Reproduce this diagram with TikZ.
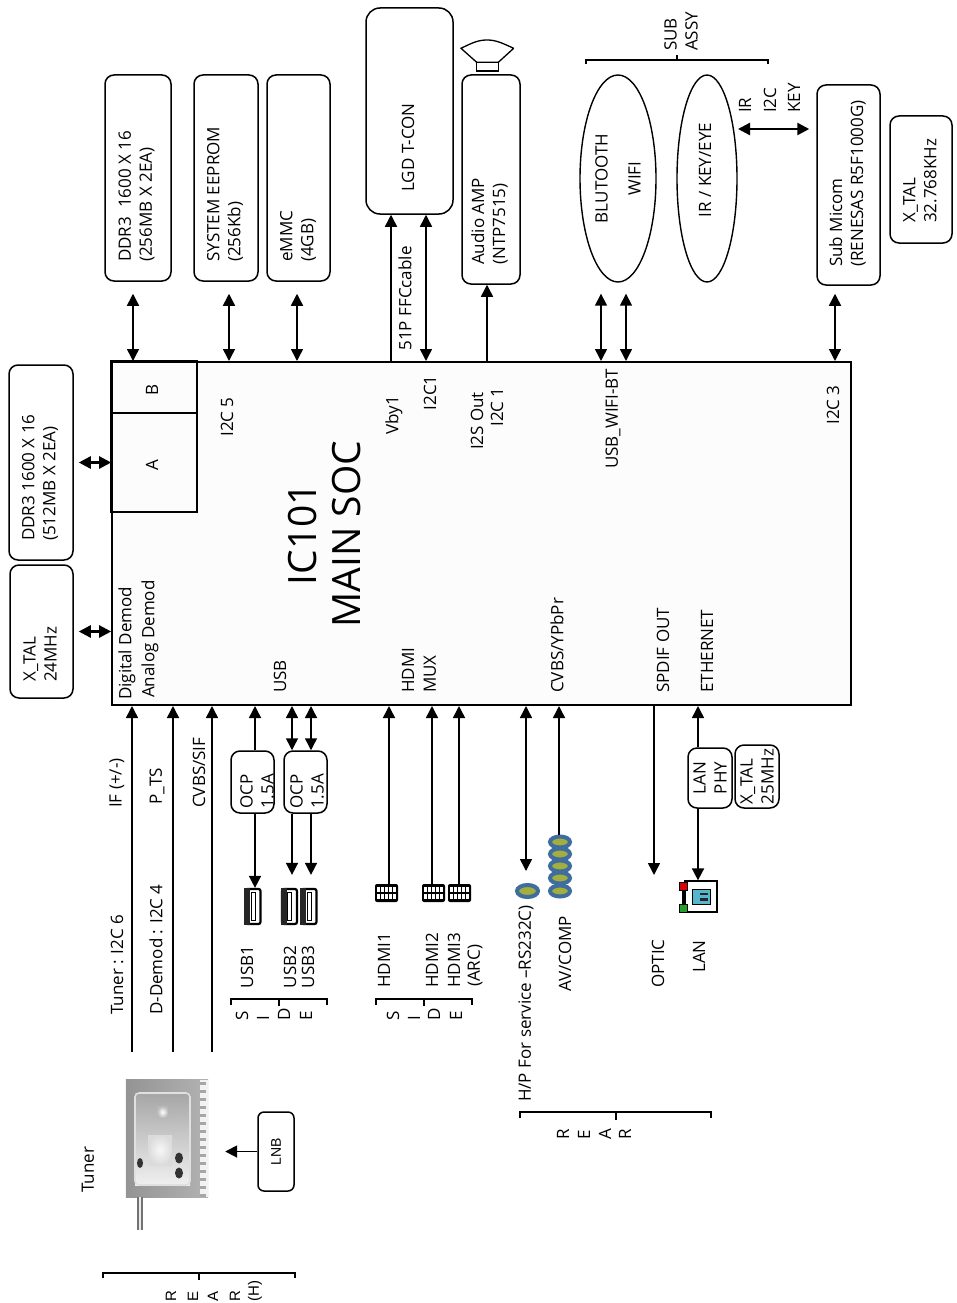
\documentclass[tikz,border=0pt]{standalone}
\usepackage{fontspec}
\setmainfont{Open Sans}
\newfontfamily\arialfont{Liberation Sans}
\usetikzlibrary{arrows.meta,shapes.geometric}
\tikzset{
  lbl/.style={rotate=90,inner sep=0pt,align=left},
  rbox/.style={draw,rotate=90,rounded corners=9pt,line width=1.5pt,inner sep=0pt,align=left},
  oval/.style={draw,ellipse,rotate=90,line width=1.4pt,inner sep=0pt,align=center},
  brk/.style={line width=1.3pt},
  arr/.style={line width=1.5pt,-{Triangle[length=12pt,width=12pt]}},
  dbl/.style={line width=1.5pt,{Triangle[length=12pt,width=12pt]}-{Triangle[length=12pt,width=12pt]}},
  dblthick/.style={line width=2.4pt,{Triangle[length=12pt,width=12pt]}-{Triangle[length=12pt,width=12pt]}},
  plug/.style={draw=jackblue,fill=jackolive,line width=4pt},
}
\definecolor{jackblue}{HTML}{3F6D9E}
\definecolor{jackolive}{HTML}{A3AE3E}
\definecolor{lancyan}{HTML}{56B6CE}
\begin{document}
\begin{tikzpicture}[x=1pt,y=-1pt,font=\fontsize{17}{21}\selectfont]
\useasboundingbox (0,0) rectangle (956,1303);
% main chip
\node (soc) [draw,fill=black!1,line width=1.6pt,inner sep=0pt,minimum width=739,minimum height=343] at (481.5,533.5) {};
\node (memA) [draw,line width=1.4pt,inner sep=0pt,minimum width=85,minimum height=99] at (154.5,462.5) {};
\node (memB) [draw,line width=1.4pt,inner sep=0pt,minimum width=85,minimum height=51] at (154.5,387.5) {};
\draw[line width=2.6pt] (memA.south west)--(memB.north west)--(memB.north east);
\node (lblA) [lbl] at (152,465) {A};
\node (lblB) [lbl] at (152,390) {B};
\node (ic) [lbl,align=center,font=\fontsize{39}{44}\selectfont] at (325,534) {IC101\\MAIN SOC};
%
% labels inside the chip
\node (digdem) [lbl,anchor=west] at (127,700) {Digital Demod};
\node (anadem) [lbl,anchor=west] at (150,698) {Analog Demod};
\node (usbin) [lbl,anchor=west] at (280,693) {USB};
\node (i2c5) [lbl] at (227,417) {I2C 5};
\node (hdmi) [lbl,anchor=west] at (408,693) {HDMI};
\node (mux) [lbl,anchor=west] at (430,693) {MUX};
\node (cvbs) [lbl,anchor=west] at (557,693) {CVBS/YPbPr};
\node (spdif) [lbl,anchor=west] at (663,693) {SPDIF OUT};
\node (eth) [lbl,anchor=west] at (707,693) {ETHERNET};
\node (vby) [lbl] at (394,415) {Vby1};
\node (i2c1a) [lbl] at (430,393) {I2C1};
\node (i2s) [lbl] at (477,421) {I2S Out};
\node (i2c1b) [lbl] at (497,407) {I2C 1};
\node (usbwifi) [lbl] at (613,419) {USB\_WIFI-BT};
\node (i2c3) [lbl] at (833,405) {I2C 3};
%
% boxes above and left of the chip
\node (ddrA) [rbox,minimum width=195,minimum height=64] at (41,462.5) {};
\node (ddrAl) [lbl,anchor=west] at (40,541) {DDR3 1600 X 16\\(512MB X 2EA)};
\node (xtalA) [rbox,minimum width=133,minimum height=63] at (41.5,631.5) {};
\node (xtalAl) [lbl,anchor=west] at (40,682) {X\_TAL\\24MHz};
\node (ddrB) [rbox,minimum width=206,minimum height=66] at (138,178) {};
\node (ddrBl) [lbl,anchor=west] at (136.5,262) {DDR3\ \ 1600 X 16\\(256MB X 2EA)};
\node (eeprom) [rbox,minimum width=206,minimum height=64] at (226,178) {};
\node (eeproml) [lbl,anchor=west] at (225,262) {SYSTEM EEPROM\\(256Kb)};
\node (emmc) [rbox,minimum width=206,minimum height=63] at (298.5,178) {};
\node (emmcl) [lbl,anchor=west] at (298,262) {eMMC\\(4GB)};
\node (tcon) [rbox,rounded corners=14pt,minimum width=206,minimum height=87] at (409.5,111) {};
\node (tconl) [lbl] at (408,147.5) {LGD T-CON};
\node (amp) [rbox,minimum width=209,minimum height=58] at (491,179.5) {};
\node (ampl) [lbl,anchor=west] at (489.5,265) {Audio AMP\\(NTP7515)};
\node (bt) [oval,minimum width=207,minimum height=76] at (618,178.5) {BLUTOOTH\\[12pt]WIFI};
\node (ir) [oval,minimum width=207,minimum height=60] at (707,178.5) {};
\node (irl) [lbl] at (705,170) {IR / KEY/EYE};
\node (micom) [rbox,minimum width=200,minimum height=63] at (848.5,185) {};
\node (micoml) [lbl,anchor=west] at (847.5,267) {Sub Micom\\(RENESAS R5F1000G)};
\node (xtalC) [rbox,minimum width=127,minimum height=62] at (921,179.5) {};
\node (xtalCl) [lbl,anchor=west] at (920,223) {X\_TAL\\32.768KHz};
%
% speaker
\draw[line width=1.3pt] (513.7,48.3)--(498.3,62.3)--(476.7,62.3)--(461,48.3) .. controls (472,43) and (478,40) .. (487,40) .. controls (496,40) and (502,43) .. (513.7,48.3);
\draw[line width=1.3pt] (476.7,62.3) rectangle (498.3,71);
%
% sub assy bracket
\coordinate (subL) at (586,60);
\coordinate (subR) at (768,60);
\coordinate (subM) at (677,60);
\draw[brk] ([yshift=-4pt]subL)--(subL)--(subR)--([yshift=-4pt]subR);
\draw[brk] (subM)--++(0,-5);
\node (subassy) [lbl,anchor=west] at (681,51) {SUB\\ASSY};
\node (irk) [lbl,anchor=west] at (745,113) {IR};
\node (i2cl) [lbl,anchor=west] at (770,113) {I2C};
\node (keyl) [lbl,anchor=west] at (794,113) {KEY};
\node (ffc) [lbl] at (405,298.5) {51P FFCcable};
%
% points on the chip's edges
\foreach \nm/\xx in {A/133,B/229,C/297,D/391,E/426,F/487,G/601,H/626,I/835}{
  \coordinate (top\nm) at (\xx,361);
}
\foreach \nm/\xx in {A/132,B/173,C/212,D/255,E/292,F/311,G/389,H/432,I/459,J/526,K/559,L/654,M/698}{
  \coordinate (bot\nm) at (\xx,706);
}
\coordinate (irarrow) at (738,129);
\draw[dblthick,shorten <=5pt] (ddrA.south)--(ddrA.south -| soc.west);
\draw[dblthick,shorten <=5pt] (xtalA.south)--(xtalA.south -| soc.west);
\draw[dbl,shorten <=12pt] (topA |- ddrB.west)--(topA);
\draw[dbl,shorten <=12pt] (topB |- eeprom.west)--(topB);
\draw[dbl,shorten <=12pt] (topC |- emmc.west)--(topC);
\draw[arr] (topD)--(topD |- tcon.west);
\draw[dbl] (topE |- tcon.west)--(topE);
\draw[arr] (topF)--(topF |- amp.west);
\draw[dbl,shorten <=11pt] (topG |- bt.west)--(topG);
\draw[dbl,shorten <=11pt] (topH |- bt.west)--(topH);
\draw[dbl,shorten <=8pt] (topI |- micom.west)--(topI);
\draw[dblthick,shorten >=7pt] (irarrow)--(micom.north |- irarrow);
%
% tuner
\node (tuner) [inner sep=0pt,minimum width=82,minimum height=117] at (167,1138.5) {};
\shade[left color=black!42,right color=black!30] (tuner.north west) rectangle (tuner.south east);
\shade[top color=black!35,bottom color=black!6] (135,1093) rectangle (190,1185);
\draw[black!12,line width=1.6pt,rounded corners=4pt] (135,1093) rectangle (190,1185);
\shade[inner color=white,outer color=black!28] (157,1106) rectangle (168,1118);
\shade[inner color=black!3,outer color=black!14] (148,1135) rectangle (172,1165);
\fill[black!5] (200,1080) rectangle (208,1197);
\foreach \yy in {1082,1090,...,1194}{\fill[black!35] (200,\yy) rectangle (206,\yy+3);}
\fill[black!55] (137,1197) rectangle (143,1230);
\fill[black!8] (139,1197) rectangle (141,1230);
\foreach \xx/\yy/\rx/\ry in {140/1163/3/5,179/1158/4/5.5,179/1173/4/5.5}{
  \fill[black!80] (\xx,\yy) ellipse ({\rx} and {\ry});
}
\node (tunerl) [lbl] at (88,1170) {Tuner};
\node (lnb) [rbox,rounded corners=6pt,minimum width=79,minimum height=36,font=\arialfont\fontsize{14}{16}\selectfont] at (276,1151.5) {LNB};
\draw[arr,line width=1.8pt,shorten >=17pt] (lnb.north)--(tuner.east |- lnb.north);
\draw[arr,shorten <=28pt] (botA |- tuner.north)--(botA);
\draw[arr,shorten <=28pt] (botB |- tuner.north)--(botB);
\draw[arr,shorten <=28pt] (botC |- tuner.north)--(botC);
\node (ifl) [lbl,anchor=west] at (117,808) {IF (+/-)};
\node (pts) [lbl,anchor=west] at (157,805) {P\_TS};
\node (cvbsif) [lbl,anchor=west] at (199,808) {CVBS/SIF};
\node (tunli) [lbl,anchor=west] at (117,1015) {Tuner : I2C 6};
\node (demli) [lbl,anchor=west] at (156,1015) {D-Demod : I2C 4};
%
% usb ports
\node (ocpA) [rbox,minimum width=62,minimum height=43] at (252.5,782) {};
\node (ocpB) [rbox,minimum width=62,minimum height=43] at (305.5,782) {};
\node (ocpAl) [lbl,anchor=west] at (257,809) {OCP\\1.5A};
\node (ocpBl) [lbl,anchor=west] at (307,809) {OCP\\1.5A};
\foreach \nm/\xx/\ww in {A/253/15,B/289.5/15,C/309/15}{
  \node (usb\nm) [draw,line width=2.2pt,rounded corners=2pt,inner sep=0pt,minimum width=\ww,minimum height=35] at (\xx,906.5) {};
  \fill[black!85] (usb\nm.north west) rectangle ([xshift=-3pt]usb\nm.south);
  \draw[line width=1pt,fill=white] (usb\nm.center) ++(-2,-14) rectangle ++(4,28);
}
\draw[arr] (botD |- ocpA.west)--(botD |- usbA.north);
\draw[arr] (botD |- ocpA.east)--(botD);
\draw[dbl] (botE |- ocpB.east)--(botE);
\draw[dbl] (botF |- ocpB.east)--(botF);
\draw[arr,shorten >=13pt] (botE |- ocpB.west)--(botE |- usbB.north);
\draw[arr,shorten >=13pt] (botF |- ocpB.west)--(botF |- usbC.north);
\node (usb1l) [lbl] at (247,967) {USB1};
\node (usb2l) [lbl] at (290,967) {USB2};
\node (usb3l) [lbl] at (308,967) {USB3};
\coordinate (sideAL) at (231,999);
\coordinate (sideAR) at (327,999);
\coordinate (sideAM) at (279,999);
\draw[brk] ([yshift=-6pt]sideAL)--(sideAL)--(sideAR)--([yshift=-6pt]sideAR);
\draw[brk] (sideAM)--++(0,7);
\foreach \ch/\xx in {S/242,I/263,D/284,E/306}{\node (sideA\ch) [lbl,anchor=west] at (\xx,1021) {\ch};}
%
% hdmi ports
\foreach \nm/\xx in {A/386.5,B/433.5,C/459.5}{
  \node (hd\nm) [fill=black,rounded corners=2pt,inner sep=0pt,minimum width=23,minimum height=18] at (\xx,893) {};
  \foreach \dx in {-8,-4,0,4,8}{
    \fill[white] ([xshift=\dx pt,yshift=6pt]hd\nm.center) ++(-1.2,0) rectangle ++(2.4,5);
    \fill[white] ([xshift=\dx pt,yshift=-1pt]hd\nm.center) ++(-1.2,0) rectangle ++(2.4,5);
  }
}
\draw[arr] (botG |- hdA.north)--(botG);
\draw[arr] (botH |- hdB.north)--(botH);
\draw[arr] (botI |- hdC.north)--(botI);
\node (hdmi1l) [lbl,anchor=west] at (384,988) {HDMI1};
\node (hdmi2l) [lbl,anchor=west] at (432,988) {HDMI2};
\node (hdmi3l) [lbl,anchor=west] at (454,988) {HDMI3};
\node (arcl) [lbl,anchor=west] at (475,987) {(ARC)};
\coordinate (sideBL) at (376,999);
\coordinate (sideBR) at (472,999);
\coordinate (sideBM) at (424,999);
\draw[brk] ([yshift=-6pt]sideBL)--(sideBL)--(sideBR)--([yshift=-6pt]sideBR);
\draw[brk] (sideBM)--++(0,7);
\foreach \ch/\xx in {S/393,I/414,D/434,E/456}{\node (sideB\ch) [lbl,anchor=west] at (\xx,1021) {\ch};}
%
% rear jacks
\node (hpjack) [plug,ellipse,inner sep=0pt,minimum width=21,minimum height=12] at (527.5,891) {};
\draw[dbl,shorten <=12pt] (botJ |- hpjack.north)--(botJ);
\foreach \nm/\yy in {A/891,B/878,C/866,D/854,E/842}{
  \node (av\nm) [plug,ellipse,inner sep=0pt,minimum width=20,minimum height=11] at (560,\yy) {};
}
\draw[arr] (botK |- avE.north)--(botK);
\coordinate (optic) at (654,875);
\draw[arr] (botL)--(optic);
\node (lanphy) [rbox,minimum width=60,minimum height=44] at (710,778) {LAN\\PHY};
\node (xtalB) [rbox,minimum width=63,minimum height=44] at (757,776.5) {X\_TAL\\25MHz};
\node (lanicon) [draw,line width=1.3pt,inner sep=0pt,minimum width=32,minimum height=31] at (701,896.5) {};
\draw[line width=1.2pt] (683,886)--(683,908);
\node (lanred) [draw,fill=red!85!black,line width=1pt,inner sep=0pt,minimum size=8] at (683,886) {};
\node (langreen) [draw,fill=green!55!black!85,line width=1pt,inner sep=0pt,minimum size=8] at (683,908) {};
\node (lanscr) [draw,fill=lancyan,line width=1pt,inner sep=0pt,minimum width=18,minimum height=15] at (701,896.5) {};
\fill[black!85] (700,892.5) rectangle (708,895);
\fill[black!85] (700,898) rectangle (708,900.5);
\draw[arr] (botM |- lanphy.east)--(botM);
\draw[arr,line width=1.8pt] (botM |- lanphy.west)--(botM |- lanicon.north);
\node (hpl) [lbl,anchor=west] at (526,1102) {H/P For service –RS232C)};
\node (avl) [lbl,anchor=west] at (565,992) {AV/COMP};
\node (opticl) [lbl,anchor=west] at (658,988) {OPTIC};
\node (lanl) [lbl,anchor=west] at (699,973) {LAN};
\coordinate (rearL) at (520,1112);
\coordinate (rearR) at (711,1112);
\coordinate (rearM) at (616,1112);
\draw[brk] ([yshift=-6pt]rearL)--(rearL)--(rearR)--([yshift=-6pt]rearR);
\draw[brk] (rearM)--++(0,8);
\foreach \ch/\xx/\nm in {R/563/a,E/584/b,A/605/c,R/625/d}{\node (rear\nm) [lbl,anchor=west] at (\xx,1140) {\ch};}
%
% rear (h)
\coordinate (rearHL) at (103,1273);
\coordinate (rearHR) at (295,1273);
\coordinate (rearHM) at (199,1273);
\draw[brk] ([yshift=-5pt]rearHL)--(rearHL)--(rearHR)--([yshift=-5pt]rearHR);
\draw[brk] (rearHM)--++(0,7);
\foreach \ch/\xx/\nm in {R/171/a,E/193/b,A/213/c,R/235/d,(H)/255/e}{
  \node (rearh\nm) [lbl,anchor=west,font=\arialfont\fontsize{15}{17}\selectfont] at (\xx,1302) {\ch};
}
\end{tikzpicture}
\end{document}
